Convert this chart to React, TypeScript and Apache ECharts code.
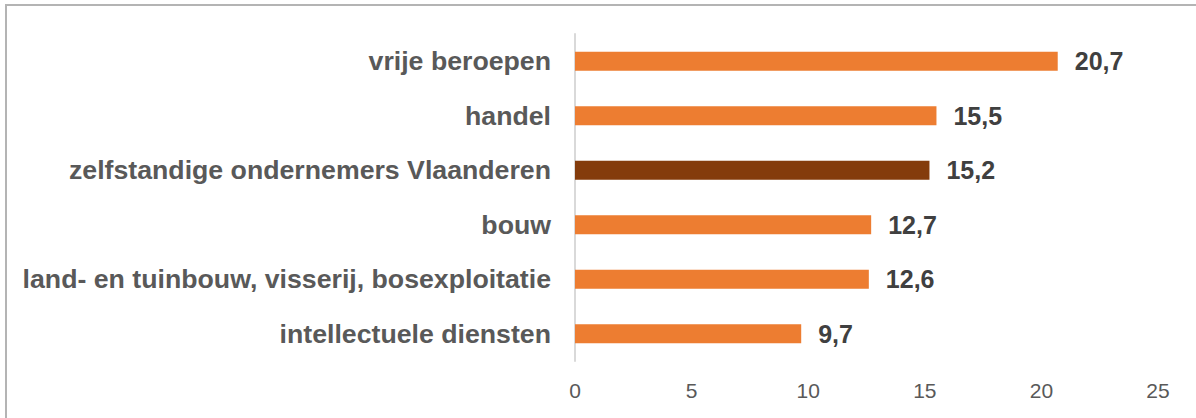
import React, { useEffect, useRef } from "react";
import * as echarts from "echarts";

const categories = [
  "vrije beroepen",
  "handel",
  "zelfstandige ondernemers Vlaanderen",
  "bouw",
  "land- en tuinbouw, visserij, bosexploitatie",
  "intellectuele diensten",
];
const values = [20.7, 15.5, 15.2, 12.7, 12.6, 9.7];
const highlight = "zelfstandige ondernemers Vlaanderen";
const xTicks = { min: 0, max: 25, interval: 5 };

const FONT = "'Liberation Sans', Arial, Helvetica, sans-serif";

export default function App() {
  const ref = useRef<HTMLDivElement>(null);
  useEffect(() => {
    if (!ref.current) return;
    const chart = echarts.init(ref.current, null, { renderer: "svg" });
    chart.setOption({
      animation: false,
      backgroundColor: "#ffffff",
      textStyle: { fontFamily: FONT },
      graphic: [
        {
          type: "rect",
          shape: { x: 6, y: 5, width: 1400, height: 600 },
          style: { fill: "none", stroke: "#b4b4b4", lineWidth: 2 },
          silent: true,
        },
      ],
      grid: { left: 575, right: 38, top: 34, bottom: 57, containLabel: false },
      xAxis: {
        type: "value",
        min: xTicks.min,
        max: xTicks.max,
        interval: xTicks.interval,
        axisLine: { show: false },
        axisTick: { show: false },
        splitLine: { show: false },
        axisLabel: {
          color: "#595959",
          fontSize: 21,
          margin: 19,
          fontFamily: FONT,
        },
      },
      yAxis: {
        type: "category",
        inverse: true,
        data: categories,
        axisLine: { show: true, lineStyle: { color: "#d9d9d9", width: 2 } },
        axisTick: { show: false },
        axisLabel: {
          color: "#595959",
          fontSize: 26.7,
          fontWeight: "bold",
          margin: 24,
          fontFamily: FONT,
        },
      },
      series: [
        {
          type: "bar",
          data: values.map((v, i) => ({
            value: v,
            itemStyle: { color: categories[i] === highlight ? "#843C0C" : "#ED7D31" },
          })),
          barWidth: 19,
          label: {
            show: true,
            position: "right",
            distance: 17,
            color: "#404040",
            fontSize: 25,
            fontWeight: "bold",
            fontFamily: FONT,
            formatter: (p: any) => String(p.value).replace(".", ","),
          },
        },
      ],
    });
    return () => chart.dispose();
  }, []);
  return (
    <div
      ref={ref}
      style={{ position: "absolute", left: 0, top: 0, width: 1196, height: 418 }}
    />
  );
}
